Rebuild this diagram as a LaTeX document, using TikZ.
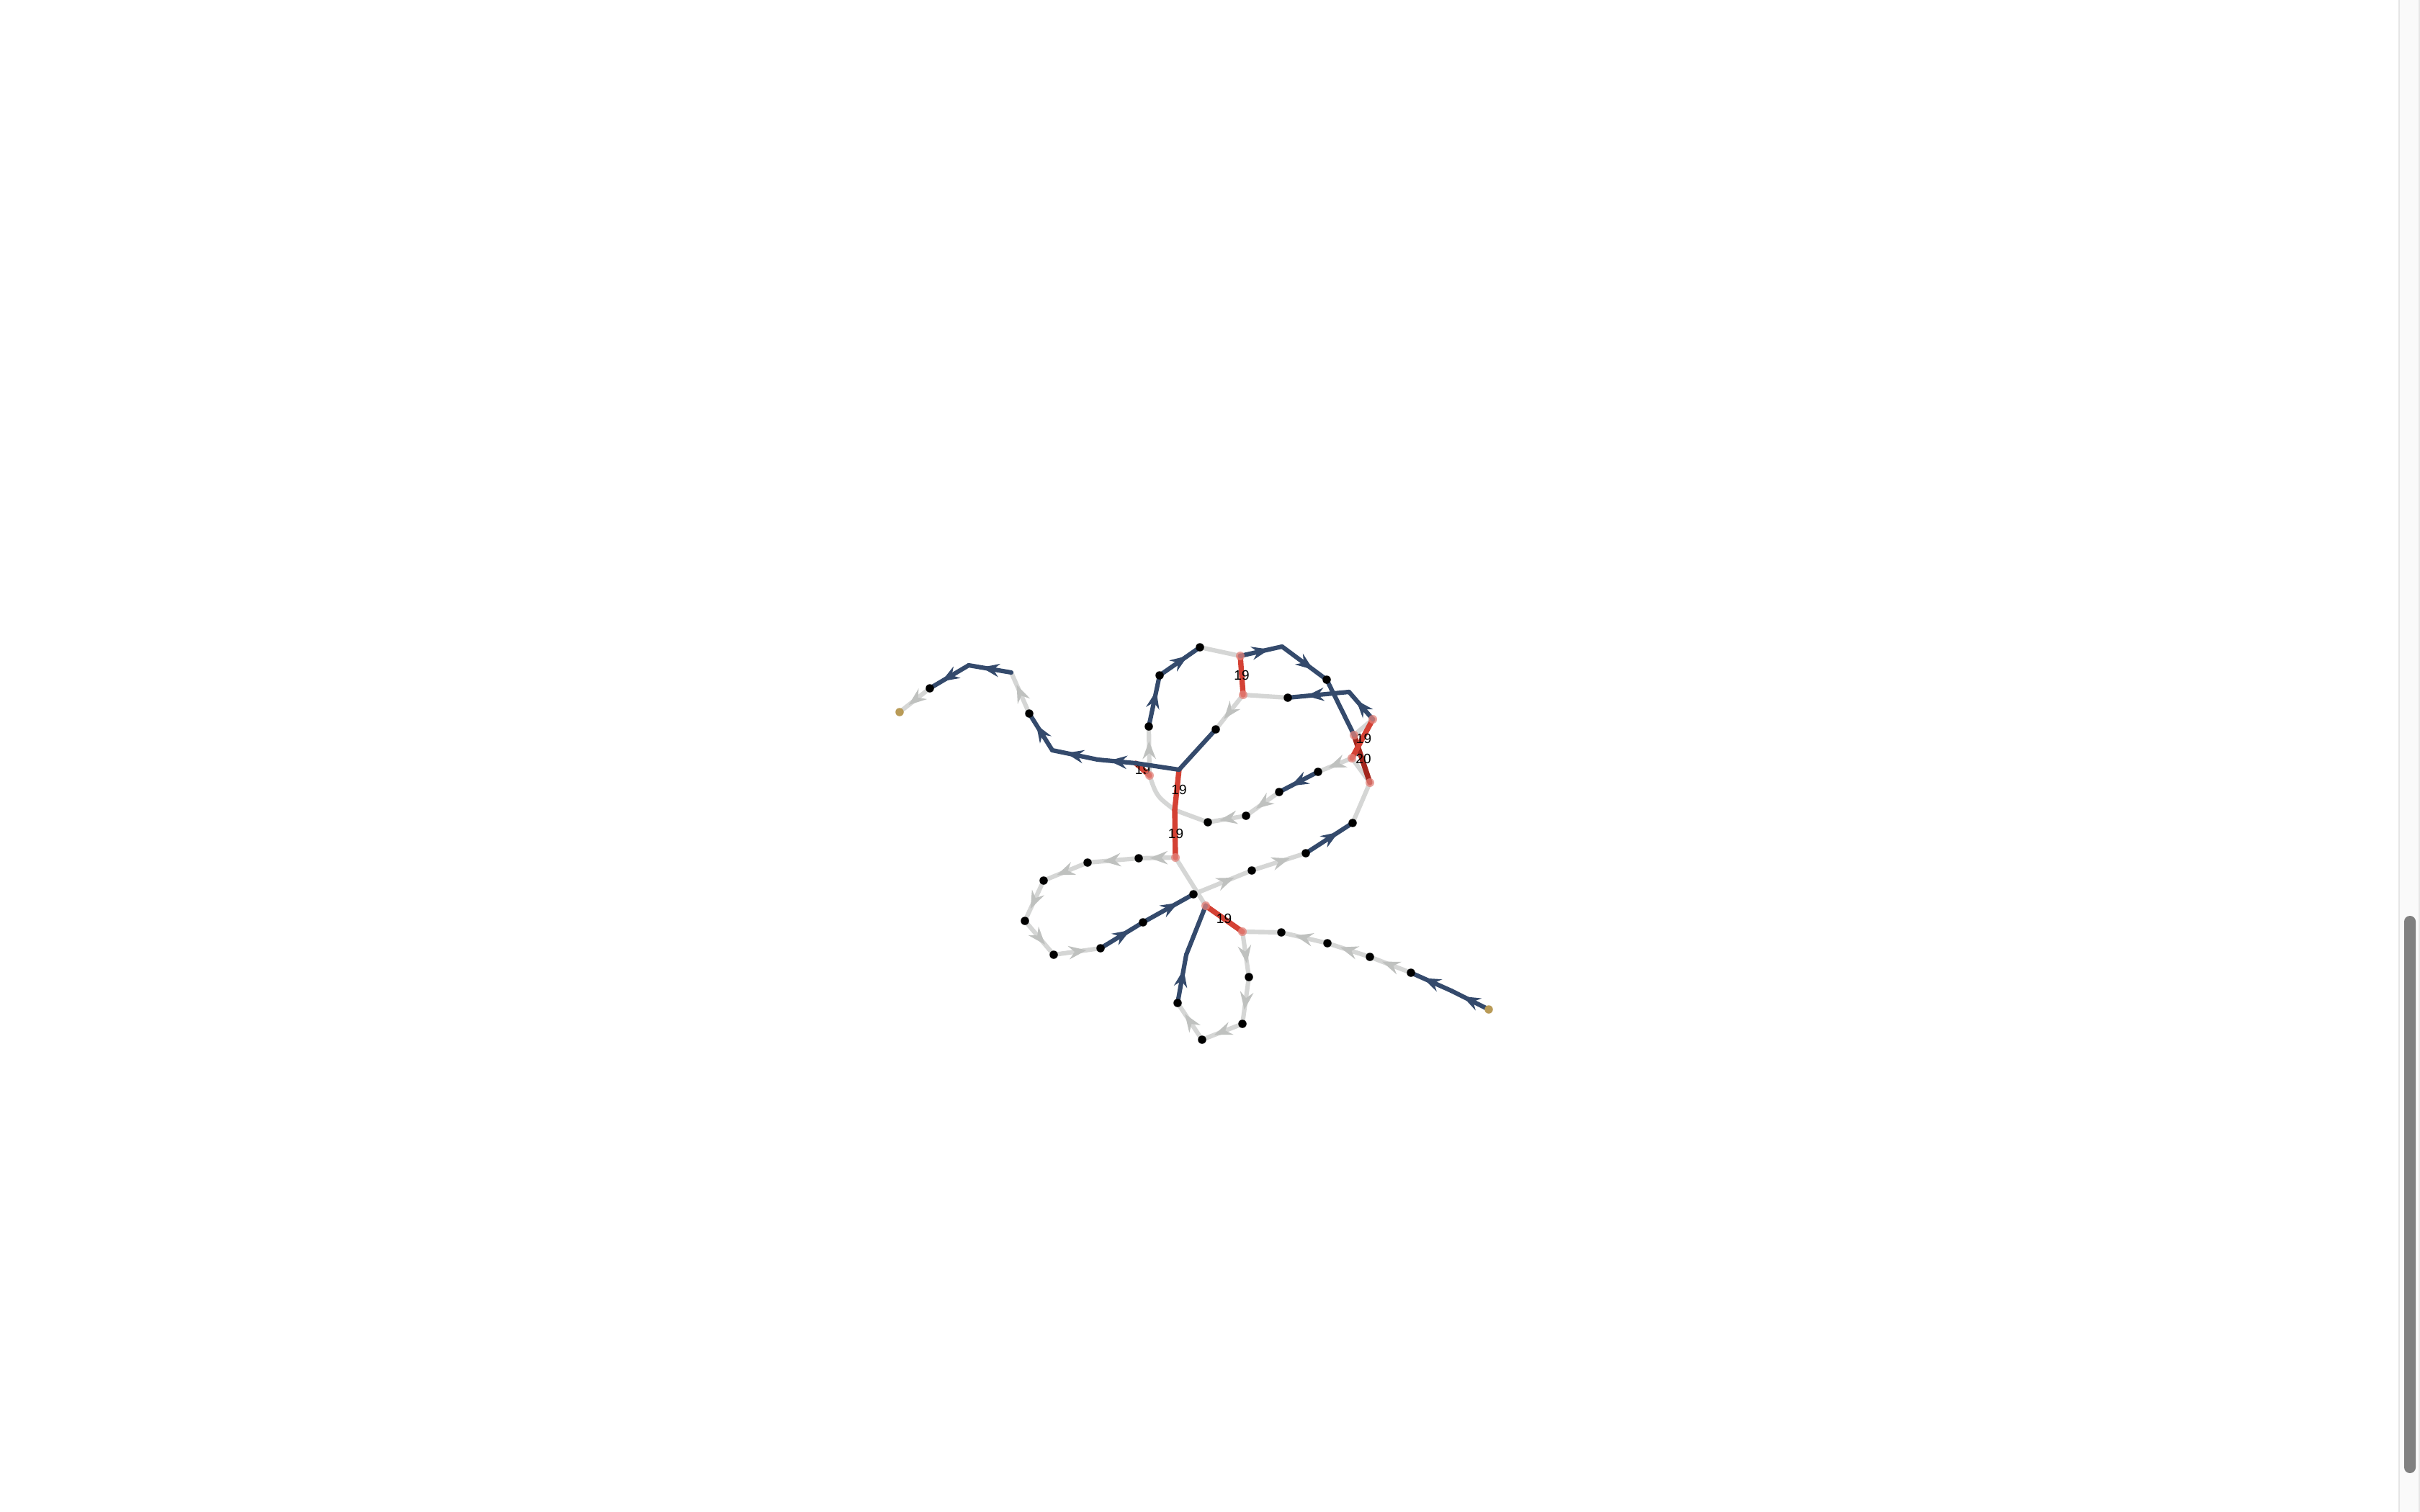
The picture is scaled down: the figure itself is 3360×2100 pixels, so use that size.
\documentclass[tikz,border=0pt]{standalone}
\usepackage{fontspec}
\setmainfont{Liberation Sans}
\usetikzlibrary{arrows.meta,decorations.markings}
\definecolor{eblue}{HTML}{344A6C}
\definecolor{egrey}{HTML}{D5D6D5}
\definecolor{earrow}{HTML}{BFC1BF}
\definecolor{ered}{HTML}{D44134}
\definecolor{edred}{HTML}{A3261D}
\definecolor{egold}{HTML}{B99B57}
\definecolor{sbg}{HTML}{FAFAFA}
\definecolor{sline}{HTML}{E6E6E6}
\definecolor{sthumb}{HTML}{808080}
\begin{document}
\begin{tikzpicture}[x={(0.01cm,0)},y={(0,-0.01cm)},
  base/.style={line width=1.75pt,line cap=round,line join=round},
  gl/.style={base,draw=egrey},
  bl/.style={base,draw=eblue},
  rl/.style={line width=2.1pt,line cap=round,draw=ered},
  drl/.style={line width=2.1pt,line cap=round,draw=edred},
  ga/.style={gl,postaction={decorate},decoration={markings,mark=at position 0.7 with {\arrow[color=earrow]{Stealth[length=7pt,width=5.2pt,inset=2.3pt]}}}},
  ba/.style={bl,postaction={decorate},decoration={markings,mark=at position 0.7 with {\arrow[color=eblue]{Stealth[length=7pt,width=5.2pt,inset=2.3pt]}}}},
  lab/.style={midway,inner sep=0pt,font=\fontsize{5.4}{6}\selectfont,text=black},
  dot/.style={circle,fill=black,inner sep=0pt,minimum size=0.115cm},
  gdot/.style={circle,fill=egold,inner sep=0pt,minimum size=0.115cm},
  rend/.style={circle,fill=ered!65!white,fill opacity=0.75,inner sep=0pt,minimum size=0.12cm},
]
\useasboundingbox (0,0) rectangle (3360,2100);
\fill[white] (0,0) rectangle (3360,2100);
% scrollbar
\fill[sbg] (3330,0) rectangle (3360,2100);
\draw[sline,line width=0.6pt] (3331,0) -- (3331,2100);
\draw[sline,line width=0.4pt] (3359,0) -- (3359,2100);
\fill[sthumb,rounded corners=0.079cm] (3338,1272) rectangle (3354,2046);

% positions
\coordinate (gA) at (1249,989);
\coordinate (A1) at (1291,956);
\coordinate (B) at (1345,924);
\coordinate (C) at (1404,934);
\coordinate (D) at (1429,991);
\coordinate (E) at (1461,1042);
\coordinate (F) at (1524,1055);
\coordinate (G) at (1577,1060);
\coordinate (H) at (1637,1069);
\coordinate (I) at (1666,899);
\coordinate (J) at (1610,938);
\coordinate (K) at (1595,1009);
\coordinate (L) at (1722,911);
\coordinate (M) at (1726,965);
\coordinate (N) at (1780,898);
\coordinate (O) at (1842,944);
\coordinate (P) at (1788,969);
\coordinate (Q) at (1873,961);
\coordinate (R) at (1906,999);
\coordinate (S) at (1880,1021);
\coordinate (T) at (1877,1053);
\coordinate (U) at (1902,1087);
\coordinate (V) at (1830,1072);
\coordinate (W) at (1776,1100);
\coordinate (X) at (1730,1133);
\coordinate (Y) at (1677,1142);
\coordinate (Z) at (1688,1013);
\coordinate (AA) at (1878,1143);
\coordinate (AB) at (1596,1077);
\coordinate (CC) at (1631,1125);
\coordinate (DD) at (1632,1191);
\coordinate (EE) at (1581,1192);
\coordinate (FF) at (1510,1198);
\coordinate (GG) at (1449,1223);
\coordinate (HH) at (1423,1279);
\coordinate (II) at (1463,1326);
\coordinate (JJ) at (1528,1317);
\coordinate (KK) at (1587,1281);
\coordinate (LL) at (1657,1242);
\coordinate (MM) at (1674,1258);
\coordinate (NN) at (1725,1294);
\coordinate (OO) at (1779,1295);
\coordinate (PP) at (1734,1357);
\coordinate (QQ) at (1738,1209);
\coordinate (RR) at (1813,1185);
\coordinate (SS) at (1843,1310);
\coordinate (TT) at (1902,1329);
\coordinate (UU) at (1959,1351);
\coordinate (VV) at (2015,1376);
\coordinate (gB) at (2067,1402);
\coordinate (WW) at (1635,1393);
\coordinate (XX) at (1647,1326);
\coordinate (YY) at (1725,1422);
\coordinate (ZZ) at (1669,1444);

% grey edges
\draw[ga] (A1) -- (gA);
\draw[ga] (D) -- (C);
\draw[gl] (I) -- (L);
\draw[gl] (M) -- (P);
\draw[ga] (M) -- (Z);
\draw[ga] (AB) -- (K);
\draw[gl] (AB) .. controls (1606,1106) .. (CC);
\draw[gl] (CC) -- (Y);
\draw[ga] (X) -- (Y);
\draw[ga] (W) -- (X);
\draw[ga] (T) -- (V);
\draw[gl] (S) -- (R);
\draw[gl] (T) -- (U);
\draw[gl] (U) -- (AA);
\draw[ga] (QQ) -- (RR);
\draw[ga] (LL) -- (QQ);
\draw[gl] (DD) -- (MM);
\draw[ga] (DD) -- (EE);
\draw[ga] (EE) -- (FF);
\draw[ga] (FF) -- (GG);
\draw[ga] (GG) -- (HH);
\draw[ga] (HH) -- (II);
\draw[ga] (II) -- (JJ);
\draw[ga] (UU) -- (TT);
\draw[ga] (TT) -- (SS);
\draw[ga] (SS) -- (OO);
\draw[gl] (OO) -- (NN);
\draw[ga] (NN) -- (PP);
\draw[ga] (PP) -- (YY);
\draw[ga] (YY) -- (ZZ);
\draw[ga] (ZZ) -- (WW);

% red edges
\draw[drl] (S) -- (U) node[lab,xshift=0.02cm] {20};
\draw[rl] (R) -- (T) node[lab,xshift=0.02cm] {19};
\draw[rl] (L) -- (M) node[lab] {19};
\draw[rl] (G) -- (AB) node[lab] {19};
\draw[rl] (H) -- (CC) node[lab,xshift=0.03cm] {19};
\draw[rl] (CC) -- (DD) node[lab,xshift=0.01cm] {19};
\draw[rl] (MM) -- (NN) node[lab] {19};

% blue edges
\draw[ba] (B) -- (A1);
\draw[ba] (C) -- (B);
\draw[ba] (E) -- (D);
\draw[ba] (F) -- (E);
\draw[ba] (G) -- (F);
\draw[bl] (H) -- (G);
\draw[bl] (H) -- (Z);
\draw[ba] (K) -- (J);
\draw[ba] (J) -- (I);
\draw[ba] (L) -- (N);
\draw[ba] (N) -- (O);
\draw[bl] (O) -- (S);
\draw[ba] (Q) -- (P);
\draw[ba] (R) -- (Q);
\draw[ba] (V) -- (W);
\draw[ba] (JJ) -- (KK);
\draw[ba] (KK) -- (LL);
\draw[ba] (RR) -- (AA);
\draw[ba] (gB) -- (VV);
\draw[ba] (VV) -- (UU);
\draw[ba] (WW) -- (XX);
\draw[bl] (XX) -- (MM);

% red edge ends
\foreach \n in {L,M,R,S,T,U,AB,DD,MM,NN}
  \node[rend] (\n-end) at (\n) {};

% node dots
\foreach \n in {A1,D,I,J,K,O,P,V,W,X,Y,Z,AA,EE,FF,GG,HH,II,JJ,KK,LL,OO,PP,QQ,RR,SS,TT,UU,WW,YY,ZZ}
  \node[dot] (\n-dot) at (\n) {};
\node[gdot] (gA-dot) at (gA) {};
\node[gdot] (gB-dot) at (gB) {};
\end{tikzpicture}
\end{document}
